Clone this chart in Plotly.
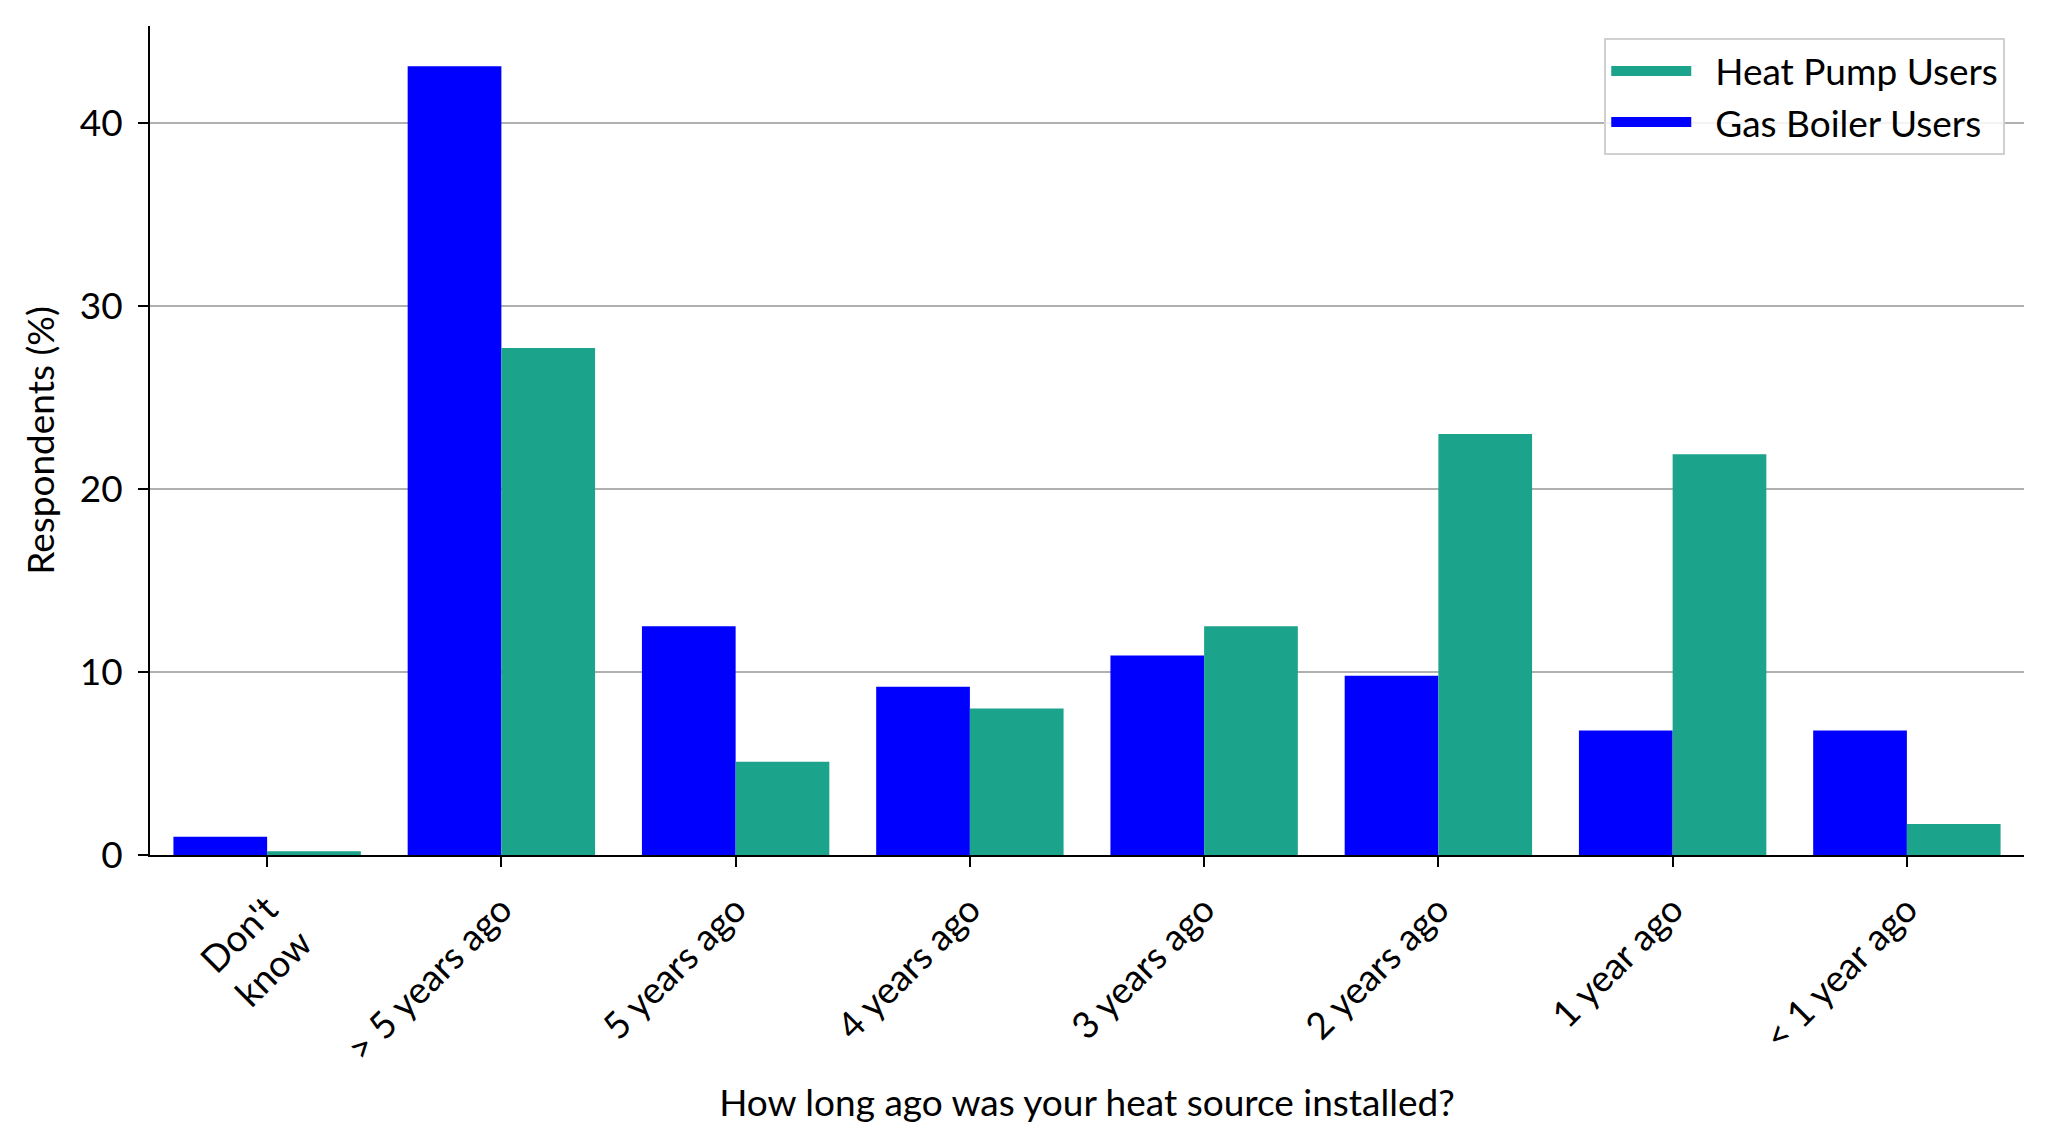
import plotly.graph_objects as go

categories = ["Don't know", "> 5 years ago", "5 years ago", "4 years ago",
              "3 years ago", "2 years ago", "1 year ago", "< 1 year ago"]
tick_labels = ["Don't<br>know", "> 5 years ago", "5 years ago", "4 years ago",
               "3 years ago", "2 years ago", "1 year ago", "< 1 year ago"]
series_names = ["Gas Boiler Users", "Heat Pump Users"]
gas_boiler = [1.0, 43.1, 12.5, 9.2, 10.9, 9.8, 6.8, 6.8]
heat_pump = [0.2, 27.7, 5.1, 8.0, 12.5, 23.0, 21.9, 1.7]
y_ticks = [0, 10, 20, 30, 40]

BLUE = "#0000FF"
TEAL = "#1BA38B"
FONT = "Lato"
FS = 37
fig = go.Figure()
fig.add_trace(go.Bar(x=categories, y=gas_boiler, name=series_names[0],
                     marker=dict(color=BLUE, line=dict(width=0)), showlegend=False))
fig.add_trace(go.Bar(x=categories, y=heat_pump, name=series_names[1],
                     marker=dict(color=TEAL, line=dict(width=0)), showlegend=False))
# legend entries drawn as wide colour patches
fig.add_trace(go.Scatter(x=[None], y=[None], mode="lines",
                         name="<span style='white-space:pre'>  </span>" + series_names[0],
                         line=dict(color=BLUE, width=24), hoverinfo="skip"))
fig.add_trace(go.Scatter(x=[None], y=[None], mode="lines",
                         name="<span style='white-space:pre'>  </span>" + series_names[1],
                         line=dict(color=TEAL, width=24), hoverinfo="skip"))

fig.update_layout(
    width=2048, height=1147,
    barmode="group", bargap=0.2, bargroupgap=0,
    plot_bgcolor="white", paper_bgcolor="white",
    margin=dict(l=142, r=32, t=18, b=300),
    font=dict(family=FONT, size=FS, color="black"),
    showlegend=True,
    legend=dict(traceorder="reversed", x=0.99, y=0.985, xanchor="right", yanchor="top",
                bgcolor="rgba(255,255,255,0.85)", bordercolor="#d0d0d0", borderwidth=2,
                font=dict(size=FS, family=FONT), tracegroupgap=6, itemwidth=80),
    xaxis=dict(
        tickmode="array", tickvals=categories, ticktext=tick_labels,
        tickangle=-45, ticks="outside", ticklen=10, tickwidth=2, tickcolor="black",
        ticklabelstandoff=6,
        showline=True, linecolor="black", linewidth=2, showgrid=False,
        range=[-0.5, 7.5],
        title=dict(text="How long ago was your heat source installed?", standoff=22,
                   font=dict(size=FS)),
    ),
    yaxis=dict(
        range=[0, 45.3], tickmode="array", tickvals=y_ticks,
        ticks="outside", ticklen=10, tickwidth=2, tickcolor="black",
        ticklabelstandoff=8,
        showline=True, linecolor="black", linewidth=2,
        showgrid=True, gridcolor="#b0b0b0", gridwidth=2, zeroline=False,
        title=dict(text="Respondents (%)", standoff=14, font=dict(size=FS)),
    ),
)

fig.write_html("out.html")
